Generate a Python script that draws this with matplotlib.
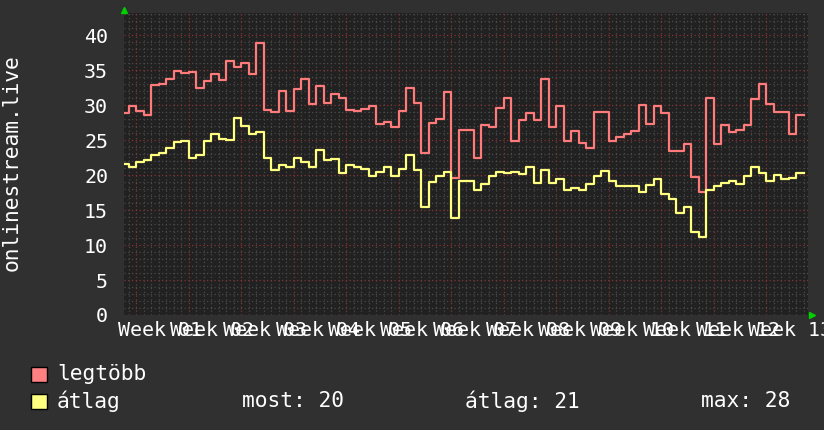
import numpy as np
import matplotlib
matplotlib.use('Agg')
import matplotlib.pyplot as plt
from matplotlib.patches import Rectangle

# daily values (first one is a partial day)
legtobb = [28.9, 29.9, 29.2, 28.6, 32.9, 33.0, 33.7, 34.9, 34.6, 34.7,
           32.5, 33.4, 34.4, 33.6, 36.3, 35.5, 36.0, 34.4, 38.9, 29.3,
           29.0, 32.0, 29.2, 32.3, 33.7, 30.1, 32.7, 30.3, 31.6, 31.0,
           29.3, 29.1, 29.5, 29.9, 27.3, 27.6, 26.9, 29.1, 32.4, 30.3,
           23.1, 27.4, 28.0, 31.8, 19.6, 26.4, 26.4, 22.5, 27.1, 26.9,
           29.6, 31.0, 24.9, 27.9, 28.9, 27.9, 33.7, 26.8, 29.9, 24.9,
           26.3, 24.6, 23.9, 29.0, 29.0, 24.9, 25.5, 25.9, 26.3, 30.0,
           27.3, 29.9, 28.9, 23.5, 23.5, 24.4, 19.7, 17.6, 31.0, 24.4,
           27.1, 26.1, 26.5, 27.1, 30.9, 33.0, 30.2, 29.0, 29.0, 25.9,
           28.6]
atlag = [21.6, 21.1, 21.8, 22.1, 22.9, 23.1, 23.9, 24.7, 24.9, 22.5,
         22.9, 24.8, 25.9, 25.2, 25.0, 28.2, 27.0, 25.8, 26.2, 22.4,
         20.7, 21.5, 21.2, 22.4, 21.9, 21.1, 23.6, 22.1, 22.3, 20.3,
         21.4, 21.2, 20.9, 19.9, 20.4, 21.1, 19.8, 20.9, 22.9, 20.7,
         15.5, 19.0, 19.9, 20.4, 13.9, 19.2, 19.1, 17.9, 18.7, 19.9,
         20.5, 20.3, 20.4, 20.1, 21.2, 18.9, 20.7, 18.8, 19.4, 17.8,
         18.1, 17.8, 18.7, 19.9, 20.6, 19.1, 18.4, 18.4, 18.4, 17.6,
         18.6, 19.4, 17.3, 16.6, 14.6, 15.5, 11.8, 11.2, 17.9, 18.5,
         18.9, 19.1, 18.7, 19.9, 21.1, 20.3, 19.1, 20.0, 19.5, 19.6,
         20.3]
week_labels = ['Week 01', 'Week 02', 'Week 03', 'Week 04', 'Week 05',
               'Week 06', 'Week 07', 'Week 08', 'Week 09', 'Week 10',
               'Week 11', 'Week 12', 'Week 13']
yticks = [0, 5, 10, 15, 20, 25, 30, 35, 40]
# summary printed under the graph
stat_names = ['most', 'átlag', 'max']
stat_vals = [20, 21, 28]

BG = '#303030'
PLOT_BG = '#212121'
RED = '#ff7b7b'
YEL = '#ffff80'
FONT = 'DejaVu Sans Mono'

# day number of each step start, week boundaries at multiples of 7
edges = np.r_[-1.55, np.arange(-1, len(legtobb) - 1)]

fig = plt.figure(figsize=(8.24, 4.30), dpi=100, facecolor=BG)
ax = fig.add_axes([124/824, 115/430, 684/824, 302/430])
ax.set_facecolor(PLOT_BG)
ax.set_xlim(-1.6, 89.6)
ax.set_ylim(0, 43.15)

# grid: minor grey dotted, major red dotted
for d in range(-1, 90):
    if d % 7 == 0:
        ax.axvline(d, color='#843434', lw=0.9, ls=(0, (1, 2)), zorder=2)
    else:
        ax.axvline(d, color='#4a4a4a', lw=0.9, ls=(0, (1, 2)), zorder=1)
for v in range(0, 44):
    if v % 5 == 0:
        ax.axhline(v, color='#843434', lw=0.9, ls=(0, (1, 2)), zorder=2)
    else:
        ax.axhline(v, color='#4a4a4a', lw=0.9, ls=(0, (1, 2)), zorder=1)

ax.step(edges, legtobb + [legtobb[-1]], where='post', color=RED, lw=1.6, zorder=3)
ax.step(edges, atlag + [atlag[-1]], where='post', color=YEL, lw=1.6, zorder=3)

for s in ax.spines.values():
    s.set_visible(False)
ax.set_xticks([])
ax.set_yticks(yticks)
ax.set_yticklabels([str(t) for t in yticks], fontfamily=FONT, fontsize=14.4, color='white')
ax.tick_params(axis='y', length=0, pad=11.5)

# week labels (they overlap, as in the original)
trans = ax.get_xaxis_transform()
for i, lab in enumerate(week_labels):
    ax.text(7*i - 2.4, -15/302, lab, transform=trans, ha='left', va='center',
            fontfamily=FONT, fontsize=14.4, color='white', clip_on=False)

# green arrows at axis ends
ax.plot(0, 1.01, marker='^', color='#00d000', ms=4.5, transform=ax.transAxes, clip_on=False)
ax.plot(1.006, 0, marker='>', color='#00d000', ms=4.5, transform=ax.transAxes, clip_on=False)

fig.text(12/824, 1 - 163/430, 'onlinestream.live', rotation=90, ha='center', va='center',
         fontfamily=FONT, fontsize=15.3, color='white')

# legend
fig.patches.append(Rectangle((31/824, 48/430), 16/824, 15/430, transform=fig.transFigure,
                             facecolor='#ff8080', edgecolor='black', lw=1))
fig.patches.append(Rectangle((31/824, 21/430), 16/824, 15/430, transform=fig.transFigure,
                             facecolor='#ffff80', edgecolor='black', lw=1))
kw = dict(fontfamily=FONT, fontsize=15.3, color='white', va='center', ha='left')
fig.text(57/824, 1 - 374/430, 'legtöbb', **kw)
fig.text(57/824, 1 - 401/430, 'átlag', **kw)
for xp, name, val in zip([242, 465, 701], stat_names, stat_vals):
    fig.text(xp/824, 1 - 401/430, f'{name}: {val}', **kw)

plt.savefig('out.png', dpi=100, facecolor=BG)
